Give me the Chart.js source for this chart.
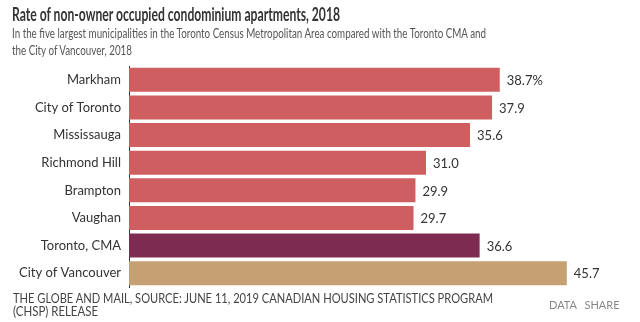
<!DOCTYPE html>
<html>
<head>
<meta charset="utf-8">
<script src="https://cdn.jsdelivr.net/npm/chart.js@4"></script>
<style>
  html, body { margin: 0; padding: 0; background: #fff; }
  body { width: 640px; height: 322px; position: relative; overflow: hidden; font-family: Lato, "Open Sans", sans-serif; }
  .fit { position: absolute; white-space: nowrap; transform-origin: 0 0; display: inline-block; }
  #title { left: 12px; top: 3px; font-weight: bold; font-size: 18px; color: #333; }
  .sub { left: 12px; font-size: 13.5px; color: #555; }
  .foot { left: 13px; font-size: 13px; color: #444; }
  #links { position: absolute; left: 549px; top: 298px; font-size: 11px; color: #888; word-spacing: 5px; }
  #wrap { position: absolute; left: 0; top: 0; width: 640px; height: 322px; }
</style>
</head>
<body>
<div id="wrap"><canvas id="c" width="640" height="322"></canvas></div>
<div id="title" class="fit" data-w="328">Rate of non-owner occupied condominium apartments, 2018</div>
<div class="fit sub" style="top:25px" data-w="474">In the five largest municipalities in the Toronto Census Metropolitan Area compared with the Toronto CMA and</div>
<div class="fit sub" style="top:42px" data-w="120">the City of Vancouver, 2018</div>
<div class="fit foot" style="top:290px" data-w="480">THE GLOBE AND MAIL, SOURCE: JUNE 11, 2019 CANADIAN HOUSING STATISTICS PROGRAM</div>
<div class="fit foot" style="top:303px" data-w="85">(CHSP) RELEASE</div>
<div id="links">DATA SHARE</div>
<script>
document.querySelectorAll('.fit').forEach(el => {
  const w = el.getBoundingClientRect().width;
  const t = parseFloat(el.dataset.w);
  el.style.transform = 'scaleX(' + (t / w) + ')';
});

const categories = ["Markham", "City of Toronto", "Mississauga", "Richmond Hill", "Brampton", "Vaughan", "Toronto, CMA", "City of Vancouver"];
const values = [38.7, 37.9, 35.6, 31.0, 29.9, 29.7, 36.6, 45.7];
const valueLabels = ["38.7%", "37.9", "35.6", "31.0", "29.9", "29.7", "36.6", "45.7"];
const barColors = ["#CF5E61", "#CF5E61", "#CF5E61", "#CF5E61", "#CF5E61", "#CF5E61", "#7E2B52", "#C4A073"];

const labelPlugin = {
  id: 'valueLabels',
  afterDatasetsDraw(chart) {
    const ctx = chart.ctx;
    const meta = chart.getDatasetMeta(0);
    ctx.save();
    ctx.font = '13px Lato, "Open Sans", sans-serif';
    ctx.fillStyle = '#333';
    ctx.textAlign = 'left';
    ctx.textBaseline = 'middle';
    meta.data.forEach((bar, i) => {
      ctx.fillText(valueLabels[i], bar.x + 7, bar.y + 1);
    });
    ctx.restore();
  }
};

new Chart(document.getElementById('c'), {
  type: 'bar',
  data: {
    labels: categories,
    datasets: [{
      data: values,
      backgroundColor: barColors,
      borderWidth: 0,
      categoryPercentage: 1,
      barPercentage: 0.87
    }]
  },
  options: {
    indexAxis: 'y',
    responsive: false,
    animation: false,
    devicePixelRatio: 1,
    layout: { padding: { top: 66, bottom: 35, left: 0, right: 32 } },
    plugins: { legend: { display: false }, tooltip: { enabled: false }, title: { display: false } },
    scales: {
      x: { display: false, min: 0, max: 50 },
      y: {
        afterFit(scale) { scale.width = 129; },
        grid: { display: false, drawTicks: false },
        border: { display: true, color: '#333', width: 1 },
        ticks: { padding: 8, color: '#333', font: { family: 'Lato, "Open Sans", sans-serif', size: 13 } }
      }
    }
  },
  plugins: [labelPlugin]
});
</script>
</body>
</html>
